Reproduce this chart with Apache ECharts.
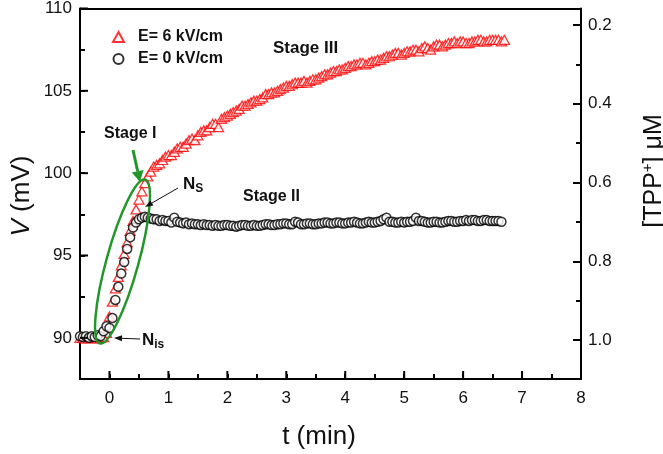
<!DOCTYPE html>
<html>
<head>
<meta charset="utf-8">
<script src="https://cdn.jsdelivr.net/npm/echarts@6/dist/echarts.min.js"></script>
<style>html,body{margin:0;padding:0;background:#fff}#c{width:663px;height:454px}</style>
</head>
<body>
<div id="c"></div>
<script>
// ---- data ----
const seriesNames = ['E= 6 kV/cm', 'E= 0 kV/cm'];
const tRed = [-0.5,-0.45,-0.4,-0.35,-0.3,-0.25,-0.2,-0.15,-0.1,-0.05,
  0,0.05,0.1,0.15,0.2,0.25,0.3,0.35,0.4,0.45,0.5,0.55,0.6,0.65,
  0.7,0.75,0.8,0.85,0.9,0.95,1.0,1.05,1.1,1.15,
  1.2,1.25,1.3,1.35,1.4,1.45,1.5,1.55,1.6,1.65,
  1.7,1.75,1.8,1.85,1.9,1.95,2.0,2.05,2.1,2.15,
  2.2,2.25,2.3,2.35,2.4,2.45,2.5,2.55,2.6,2.65,
  2.7,2.75,2.8,2.85,2.9,2.95,3.0,3.05,3.1,3.15,
  3.2,3.25,3.3,3.35,3.4,3.45,3.5,3.55,3.6,3.65,
  3.7,3.75,3.8,3.85,3.9,3.95,4.0,4.05,4.1,4.15,
  4.2,4.25,4.3,4.35,4.4,4.45,4.5,4.55,4.6,4.65,
  4.7,4.75,4.8,4.85,4.9,4.95,5.0,5.05,5.1,5.15,
  5.2,5.25,5.3,5.35,5.4,5.45,5.5,5.55,5.6,5.65,
  5.7,5.75,5.8,5.85,5.9,5.95,6.0,6.05,6.1,6.15,
  6.2,6.25,6.3,6.35,6.4,6.45,6.5,6.55,6.6,6.65,
  6.7];
const vRed = [90.0,90.0,89.95,90.0,90.05,90.0,89.95,90.0,90.05,90.3,
  91.3,92.2,93.0,93.7,94.4,95.1,95.8,96.5,97.1,97.8,98.4,98.9,99.4,99.8,
  100.1,100.4,100.5,100.6,100.8,101.0,101.1,101.1,101.3,101.5,
  101.6,101.6,101.8,102.0,102.1,102.0,102.3,102.5,102.6,102.6,
  102.8,103.0,103.0,102.8,103.3,103.4,103.5,103.6,103.7,103.8,
  103.9,104.1,104.1,104.2,104.3,104.4,104.4,104.5,104.6,104.8,
  104.8,104.9,104.9,105.0,105.1,105.2,105.3,105.3,105.4,105.5,
  105.5,105.5,105.6,105.5,105.6,105.7,105.7,105.8,105.9,106.0,
  106.0,106.1,106.2,106.2,106.3,106.3,106.4,106.5,106.5,106.6,
  106.6,106.7,106.7,106.6,106.7,106.8,106.8,106.9,106.9,107.0,
  107.1,107.1,107.2,107.3,107.3,107.2,107.3,107.4,107.4,107.5,
  107.5,107.4,107.6,107.7,107.6,107.5,107.7,107.8,107.8,107.7,
  107.8,107.9,107.9,108.0,107.9,108.0,108.0,107.9,107.9,108.0,
  108.0,108.1,108.1,108.0,108.0,108.1,108.1,108.1,108.1,108.0,
  108.1];
const tBlack = [-0.5,-0.45,-0.4,-0.35,-0.3,-0.25,-0.2,-0.15,-0.1,-0.05,
  0,0.05,0.1,0.15,0.2,0.25,0.3,0.35,0.4,0.45,0.5,0.55,0.6,0.65,
  0.7,0.75,0.8,0.85,0.9,0.95,1.0,1.05,1.1,1.15,
  1.2,1.25,1.3,1.35,1.4,1.45,1.5,1.55,1.6,1.65,
  1.7,1.75,1.8,1.85,1.9,1.95,2.0,2.05,2.1,2.15,
  2.2,2.25,2.3,2.35,2.4,2.45,2.5,2.55,2.6,2.65,
  2.7,2.75,2.8,2.85,2.9,2.95,3.0,3.05,3.1,3.15,
  3.2,3.25,3.3,3.35,3.4,3.45,3.5,3.55,3.6,3.65,
  3.7,3.75,3.8,3.85,3.9,3.95,4.0,4.05,4.1,4.15,
  4.2,4.25,4.3,4.35,4.4,4.45,4.5,4.55,4.6,4.65,
  4.7,4.75,4.8,4.85,4.9,4.95,5.0,5.05,5.1,5.15,
  5.2,5.25,5.3,5.35,5.4,5.45,5.5,5.55,5.6,5.65,
  5.7,5.75,5.8,5.85,5.9,5.95,6.0,6.05,6.1,6.15,
  6.2,6.25,6.3,6.35,6.4,6.45,6.5,6.55,6.6,6.65];
const vBlack = [90.1,90.05,90.1,90.0,90.1,90.05,90.15,90.1,90.4,90.7,
  90.6,91.2,92.3,93.1,93.9,94.6,95.4,96.1,96.7,97.0,97.2,97.3,97.35,97.3,
  97.25,97.2,97.2,97.1,97.15,97.1,97.1,97.0,97.3,97.05,
  97.0,96.95,97.0,96.9,96.95,96.9,96.9,96.85,96.9,96.85,
  96.85,96.8,96.85,96.8,96.8,96.85,96.85,96.8,96.8,96.75,
  96.8,96.85,96.85,96.8,96.8,96.85,96.8,96.8,96.85,96.9,
  96.9,96.85,96.85,96.9,96.9,96.95,96.95,96.9,96.9,97.05,
  97.0,96.9,96.9,96.95,96.95,96.9,96.9,96.95,96.95,97.0,
  97.0,96.95,96.95,97.0,97.0,96.95,96.95,97.0,97.0,97.05,
  97.0,96.95,96.95,97.0,97.05,97.0,97.0,97.05,97.1,97.2,
  97.3,97.05,97.05,97.0,97.0,97.05,97.0,97.05,97.05,97.1,
  97.3,97.1,97.1,97.05,97.0,97.0,97.05,97.05,97.0,97.0,
  97.05,97.1,97.1,97.05,97.05,97.1,97.1,97.15,97.1,97.15,
  97.15,97.1,97.1,97.15,97.15,97.1,97.1,97.1,97.1,97.05];
const xRange = [-0.5, 8];
const vRange = [87.5, 110];
const cTickRange = [0.2, 1.0];  // labelled [TPP+] ticks

const FONT = 'Liberation Sans, Arial, sans-serif';
const chart = echarts.init(document.getElementById('c'), null, {renderer: 'canvas'});

const mkLine = () => ({show: true, onZero: false, lineStyle: {color: '#000', width: 2}});
const mkTick = (len) => ({show: true, inside: true, length: len, lineStyle: {color: '#000', width: 2}});
const mkMinor = () => ({show: true, splitNumber: 2, length: 5, lineStyle: {color: '#000', width: 2}});
const mkLabel = (m, f) => ({show: true, margin: m, color: '#111', fontSize: 17, fontFamily: FONT, formatter: f});
const isInt = (v) => Math.abs(v - Math.round(v)) < 1e-9;

function arrow(x1, y1, x2, y2, color, w, hl, hw) {
  const dx = x2 - x1, dy = y2 - y1, L = Math.hypot(dx, dy);
  const ux = dx / L, uy = dy / L, px = -uy, py = ux;
  const bx = x2 - ux * hl, by = y2 - uy * hl;
  return [
    {type: 'line', z: 100, shape: {x1: x1, y1: y1, x2: bx, y2: by}, style: {stroke: color, lineWidth: w}},
    {type: 'polygon', z: 100, shape: {points: [[x2, y2], [bx + px * hw, by + py * hw], [bx - px * hw, by - py * hw]]}, style: {fill: color}}
  ];
}

const bold = {fontWeight: 'bold', fontFamily: FONT, fill: '#111'};
const graphics = [
  {type: 'ellipse', z: 100, x: 122.5, y: 261.5, rotation: -0.27, shape: {cx: 0, cy: 0, rx: 16, ry: 85},
   style: {fill: 'none', stroke: '#23962b', lineWidth: 2.5}},
  ...arrow(133, 150, 140, 182, '#23962b', 3, 11, 6),
  ...arrow(178, 188, 145, 207, '#111', 1, 8, 3),
  ...arrow(140, 339, 114, 338, '#111', 1, 8, 3),
  {type: 'text', z: 100, x: 273, y: 48, style: Object.assign({text: 'Stage III', fontSize: 17, verticalAlign: 'middle'}, bold)},
  {type: 'text', z: 100, x: 104, y: 134, style: Object.assign({text: 'Stage I', fontSize: 16, verticalAlign: 'middle'}, bold)},
  {type: 'text', z: 100, x: 243, y: 197, style: Object.assign({text: 'Stage II', fontSize: 16, verticalAlign: 'middle'}, bold)},
  {type: 'text', z: 100, x: 183, y: 184, style: Object.assign({text: '{n|N}{s|S}', verticalAlign: 'middle',
    rich: {n: {fontSize: 17, fontWeight: 'bold', fontFamily: FONT}, s: {fontSize: 12, fontWeight: 'bold', fontFamily: FONT, padding: [10, 0, 0, 0]}}}, bold)},
  {type: 'text', z: 100, x: 142, y: 340, style: Object.assign({text: '{n|N}{s|is}', verticalAlign: 'middle',
    rich: {n: {fontSize: 17, fontWeight: 'bold', fontFamily: FONT}, s: {fontSize: 12, fontWeight: 'bold', fontFamily: FONT, padding: [10, 0, 0, 0]}}}, bold)},
  {type: 'text', z: 100, x: 319, y: 437, style: {text: 't (min)', fontSize: 26, fontFamily: FONT, fill: '#111', align: 'center', verticalAlign: 'middle'}},
  {type: 'text', z: 100, x: 22, y: 196, rotation: Math.PI / 2, style: {text: '{i|V} (mV)', fontSize: 26, fontFamily: FONT, fill: '#111', align: 'center', verticalAlign: 'middle',
    rich: {i: {fontStyle: 'italic', fontSize: 26, fontFamily: FONT}}}},
  {type: 'text', z: 100, x: 654, y: 171, rotation: Math.PI / 2, style: {text: '[TPP{p|+}] μM', fontSize: 25, fontFamily: FONT, fill: '#111', align: 'center', verticalAlign: 'middle',
    rich: {p: {fontSize: 15, fontFamily: FONT, padding: [0, 0, 12, 0]}}}}
];

const option = {
  backgroundColor: '#fff',
  animation: false,
  grid: [
    {left: 80, right: 82, top: 8, bottom: 75},
    {left: 80, right: 82, top: 25, bottom: 114}
  ],
  xAxis: [
    {gridIndex: 0, type: 'value', position: 'bottom', min: xRange[0], max: xRange[1], interval: 0.5,
     axisLine: mkLine(), axisTick: mkTick(5), splitLine: {show: false},
     axisLabel: mkLabel(11, v => isInt(v) ? String(Math.round(v)) : '')},
    {gridIndex: 0, type: 'value', position: 'top', min: xRange[0], max: xRange[1],
     axisLine: mkLine(), axisTick: {show: false}, axisLabel: {show: false}, splitLine: {show: false}},
    {gridIndex: 1, type: 'value', min: 0, max: 1, show: false}
  ],
  yAxis: [
    {gridIndex: 0, type: 'value', position: 'left', min: vRange[0], max: vRange[1], interval: 2.5,
     axisLine: mkLine(), axisTick: mkTick(5), splitLine: {show: false},
     axisLabel: mkLabel(8, v => (isInt(v) && Math.round(v) % 5 === 0) ? String(Math.round(v)) : '')},
    {gridIndex: 0, type: 'value', position: 'right', min: vRange[0], max: vRange[1],
     axisLine: mkLine(), axisTick: {show: false}, axisLabel: {show: false}, splitLine: {show: false}},
    {gridIndex: 1, type: 'value', position: 'right', inverse: true, min: cTickRange[0], max: cTickRange[1], interval: 0.2, z: 20,
     axisLine: mkLine(), axisTick: mkTick(8), minorTick: mkMinor(), splitLine: {show: false},
     axisLabel: mkLabel(7, v => v.toFixed(1))}
  ],
  legend: {
    orient: 'vertical', left: 107, top: 24, itemWidth: 11, itemHeight: 10, itemGap: 6,
    textStyle: {fontSize: 16, fontWeight: 'bold', fontFamily: FONT, color: '#111', padding: [0, 0, 0, 9]},
    data: seriesNames
  },
  series: [
    {name: seriesNames[0], type: 'scatter', xAxisIndex: 0, yAxisIndex: 0, symbol: 'triangle', symbolSize: [10, 9],
     itemStyle: {color: '#fff', borderColor: '#ff0000', borderWidth: 1.3}, z: 2,
     data: tRed.map((t, i) => [t, vRed[i]])},
    {name: seriesNames[1], type: 'scatter', xAxisIndex: 0, yAxisIndex: 0, symbol: 'circle', symbolSize: 9,
     itemStyle: {color: '#fff', borderColor: '#000', borderWidth: 1.5}, z: 3,
     data: tBlack.map((t, i) => [t, vBlack[i]])}
  ],
  graphic: graphics
};
chart.setOption(option);

// Longer major ticks at labelled values, positioned through the data series' own scales
try {
  const tickEls = [];
  const toPx = (pt) => chart.convertToPixel({seriesIndex: 0}, pt);
  for (let t = 0; t <= 8; t++) {
    const p = toPx([t, vRange[0]]);
    if (p) tickEls.push({type: 'line', z: 50, shape: {x1: p[0], y1: p[1], x2: p[0], y2: p[1] - 8}, style: {stroke: '#000', lineWidth: 2}});
  }
  for (let v = 90; v <= 110; v += 5) {
    const p = toPx([xRange[0], v]);
    if (p) tickEls.push({type: 'line', z: 50, shape: {x1: p[0], y1: p[1], x2: p[0] + 8, y2: p[1]}, style: {stroke: '#000', lineWidth: 2}});
  }
  chart.setOption({graphic: graphics.concat(tickEls)});
} catch (e) { console.error(e); }
</script>
</body>
</html>
